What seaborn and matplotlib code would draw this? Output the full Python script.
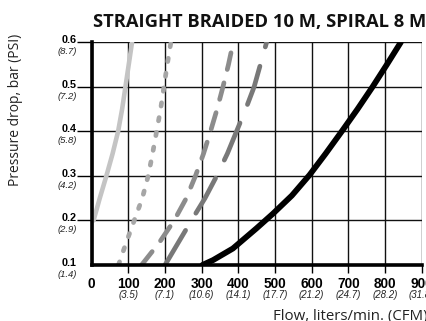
import matplotlib
matplotlib.use("Agg")
import matplotlib.pyplot as plt
import matplotlib.transforms as mtransforms
import seaborn as sns
import pandas as pd

# Flow ticks (liters/min) with their CFM equivalents
flow_ticks = [0, 100, 200, 300, 400, 500, 600, 700, 800, 900]
flow_labels = ["0", "100", "200", "300", "400", "500", "600", "700", "800", "900"]
cfm_labels = ["", "(3.5)", "(7.1)", "(10.6)", "(14.1)", "(17.7)", "(21.2)", "(24.7)", "(28.2)", "(31.8)"]

# Pressure ticks (bar) with their PSI equivalents
bar_ticks = [0.1, 0.2, 0.3, 0.4, 0.5, 0.6]
bar_labels = ["0.1", "0.2", "0.3", "0.4", "0.5", "0.6"]
psi_labels = ["(1.4)", "(2.9)", "(4.2)", "(5.8)", "(7.2)", "(8.7)"]

# Pressure drop curves: flow (l/min) vs pressure drop (bar)
hose_a_flow = [5, 22, 40, 57, 72, 83, 92, 101, 110]
hose_a_bar = [0.20, 0.25, 0.30, 0.35, 0.40, 0.45, 0.50, 0.55, 0.60]

hose_b_flow = [73, 94, 116, 138, 154, 166, 177, 188, 197, 206, 216]
hose_b_bar = [0.10, 0.15, 0.20, 0.25, 0.30, 0.35, 0.40, 0.45, 0.50, 0.55, 0.60]

hose_c_flow = [136, 184, 225, 258, 283, 305, 324, 342, 358, 373, 386]
hose_c_bar = [0.10, 0.15, 0.20, 0.25, 0.30, 0.35, 0.40, 0.45, 0.50, 0.55, 0.60]

hose_d_flow = [200, 236, 272, 309, 341, 370, 395, 420, 443, 460, 477]
hose_d_bar = [0.10, 0.15, 0.20, 0.25, 0.30, 0.35, 0.40, 0.45, 0.50, 0.55, 0.60]

hose_e_flow = [302, 331, 385, 449, 494, 546, 594, 638, 682, 725, 766, 805, 843]
hose_e_bar = [0.100, 0.111, 0.137, 0.182, 0.215, 0.256, 0.302, 0.350, 0.40, 0.45, 0.50, 0.55, 0.60]

sns.set_theme(style="white")
plt.rcParams["font.family"] = ["Open Sans", "DejaVu Sans"]
plt.rcParams["lines.scale_dashes"] = False

fig = plt.figure(figsize=(4.26, 3.21), dpi=100)
ax = fig.add_axes([91.7 / 426, 56 / 321, 330 / 426, 222.7 / 321])

curves = [
    (hose_a_flow, hose_a_bar, "#c4c4c4", 3.3, "-"),
    (hose_b_flow, hose_b_bar, "#a6a6a6", 3.4, (0, (2.4, 8.4))),
    (hose_c_flow, hose_c_bar, "#8c8c8c", 3.4, (0, (12.3, 9.9))),
    (hose_d_flow, hose_d_bar, "#787878", 3.4, (0, (29, 14.4))),
    (hose_e_flow, hose_e_bar, "#000000", 4.2, "-"),
]
for fx, fy, col, lw, ls in curves:
    df = pd.DataFrame({"flow": fx, "bar": fy})
    sns.lineplot(data=df, x="flow", y="bar", sort=False, color=col,
                 linewidth=lw, linestyle=ls, ax=ax,
                 solid_capstyle="round", dash_capstyle="round",
                 solid_joinstyle="round", zorder=3)

ax.set_xlim(0, 900)
ax.set_ylim(0.1, 0.6)
ax.set_xticks(flow_ticks)
ax.set_yticks(bar_ticks)
ax.set_xticklabels([])
ax.set_yticklabels([])
ax.set_xlabel("")
ax.set_ylabel("")
ax.grid(True, color="#111111", linewidth=1.0)
ax.set_axisbelow(True)

for side in ["top", "right"]:
    ax.spines[side].set_visible(False)
for side in ["left", "bottom"]:
    ax.spines[side].set_visible(True)
    ax.spines[side].set_color("black")
    ax.spines[side].set_linewidth(2.6)
    ax.spines[side].set_zorder(4)

ax.tick_params(axis="y", which="major", length=11, width=1.0, color="black",
               direction="out", left=True)
ax.tick_params(axis="x", which="major", length=6, width=1.0, color="black",
               direction="out", bottom=True)
ax.yaxis.get_major_ticks()[0].tick1line.set_visible(False)
ax.xaxis.get_major_ticks()[0].tick1line.set_visible(False)

tick_font = ["Liberation Sans", "DejaVu Sans"]

# Flow tick labels, two lines each
xtrans = mtransforms.blended_transform_factory(ax.transData, ax.transAxes)
main_x = mtransforms.offset_copy(xtrans, fig=fig, y=-23, units="dots")
sub_x = mtransforms.offset_copy(xtrans, fig=fig, y=-33, units="dots")
for v, lab, sub in zip(flow_ticks, flow_labels, cfm_labels):
    ax.text(v, 0, lab, transform=main_x, ha="center", va="baseline",
            fontsize=9.8, fontweight="bold", family=tick_font, color="black",
            clip_on=False)
    if sub:
        ax.text(v, 0, sub, transform=sub_x, ha="center", va="baseline",
                fontsize=7, fontstyle="italic", family=tick_font,
                color="#222222", clip_on=False)

# Pressure tick labels, two lines each
ytrans = mtransforms.blended_transform_factory(ax.transAxes, ax.transData)
main_y = mtransforms.offset_copy(ytrans, fig=fig, x=-14.7, y=-0.7, units="dots")
sub_y = mtransforms.offset_copy(ytrans, fig=fig, x=-14.7, y=-12, units="dots")
for v, lab, sub in zip(bar_ticks, bar_labels, psi_labels):
    ax.text(0, v, lab, transform=main_y, ha="right", va="baseline",
            fontsize=7.8, fontweight="bold", family=tick_font, color="black",
            clip_on=False)
    ax.text(0, v, sub, transform=sub_y, ha="right", va="baseline",
            fontsize=6.8, fontstyle="italic", family=tick_font,
            color="#222222", clip_on=False)

fig.text(260 / 426, (321 - 26.7) / 321, "STRAIGHT BRAIDED 10 M, SPIRAL 8 M",
         ha="center", va="baseline", fontsize=13.2, fontweight="bold",
         color="#111111")
fig.text(16 / 426, (321 - 110) / 321, "Pressure drop, bar (PSI)",
         rotation=90, ha="center", va="center", fontsize=10, color="#222222")
fig.text(273 / 426, 1 / 321, "Flow, liters/min. (CFM)",
         ha="left", va="baseline", fontsize=10.8, color="#222222")

fig.savefig("out.png", dpi=100)
